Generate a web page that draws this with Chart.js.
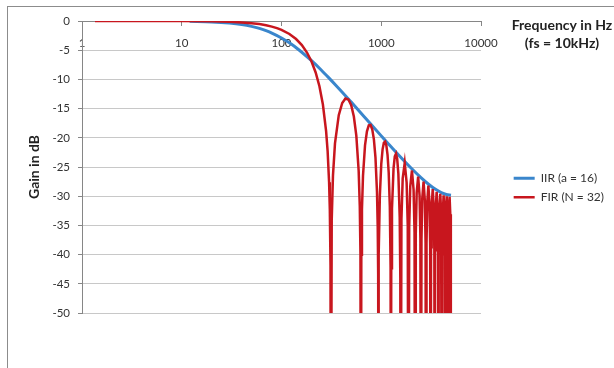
<!DOCTYPE html>
<html>
<head>
<meta charset="utf-8">
<script src="https://cdn.jsdelivr.net/npm/chart.js@4.4.1/dist/chart.umd.min.js"></script>
<style>
  html, body { margin: 0; padding: 0; background: #fff; overflow: hidden; }
</style>
</head>
<body>
<canvas id="gain_chart" width="614" height="368"></canvas>
<script>
// IIR one-pole smoother (a = 16), gain in dB
const iirFreq = [12, 20, 30, 40, 50, 60, 70, 80, 100, 120, 150, 200, 250, 300, 350, 400, 500, 600, 700, 800,
    1000, 1200, 1500, 2000, 2500, 3000, 3500, 4000, 4500, 5000];
const iirGain = [-0.06, -0.16, -0.36, -0.61, -0.92, -1.27, -1.66, -2.06, -2.9, -3.74, -4.96, -6.8, -8.39, -9.78, -10.99, -12.06, -13.89, -15.4, -16.69, -17.81,
    -19.67, -21.18, -22.99, -25.22, -26.82, -27.99, -28.83, -29.39, -29.72, -29.83];

// FIR moving average (N = 32), gain in dB (nulls go below the axis)
const firFreq = [
    1.35, 10, 20, 30, 40, 50, 60, 70, 80, 90, 100, 120, 140, 160, 180, 200, 220, 240, 260, 280, 290, 300, 305, 310, 312.5,
    318.75, 328.125, 343.75, 375, 406.25, 437.5, 468.75, 500, 531.25, 562.5, 593.75, 609.375, 618.75, 625,
    631.25, 640.625, 656.25, 687.5, 718.75, 750, 781.25, 812.5, 843.75, 875, 906.25, 921.875, 931.25, 937.5,
    946.875, 968.75, 1000, 1031.25, 1062.5, 1093.75, 1125, 1156.25, 1187.5, 1218.75, 1240.625, 1250,
    1259.375, 1281.25, 1328.125, 1367.1875, 1406.25, 1445.3125, 1484.375, 1531.25, 1553.125, 1562.5,
    1593.75, 1640.625, 1718.75, 1796.875, 1843.75, 1875,
    1906.25, 1953.125, 2031.25, 2109.375, 2156.25, 2187.5,
    2218.75, 2265.625, 2343.75, 2421.875, 2468.75, 2500,
    2531.25, 2578.125, 2656.25, 2734.375, 2781.25, 2812.5,
    2843.75, 2890.625, 2968.75, 3046.875, 3093.75, 3125,
    3156.25, 3203.125, 3281.25, 3359.375, 3406.25, 3437.5,
    3468.75, 3515.625, 3593.75, 3671.875, 3718.75, 3750,
    3781.25, 3828.125, 3906.25, 3984.375, 4031.25, 4062.5,
    4093.75, 4140.625, 4218.75, 4296.875, 4343.75, 4375,
    4406.25, 4453.125, 4531.25, 4609.375, 4656.25, 4687.5,
    4718.75, 4765.625, 4843.75, 4921.875, 4968.75, 5000
];
const firGain = [
    0, -0.01, -0.06, -0.13, -0.24, -0.37, -0.53, -0.73, -0.96, -1.22, -1.52, -2.22, -3.09, -4.13, -5.4, -6.94, -8.82, -11.18, -14.3, -18.86, -22.28, -27.63, -32.19, -41.87, -90,
    -34.14, -26.46, -20.95, -16.13, -14.04, -13.28, -13.43, -14.43, -16.35, -19.62, -25.67, -31.8, -39.86, -90,
    -40.02, -32.21, -26.49, -21.29, -18.89, -17.87, -17.81, -18.56, -20.27, -23.36, -29.25, -35.31, -43.34, -90,
    -39.97, -29.82, -24.5, -21.98, -20.83, -20.65, -21.31, -22.94, -25.94, -31.74, -42.22, -90,
    -42.35, -32.15, -25.25, -23.17, -22.72, -23.62, -26.16, -33.6, -44.05, -90,
    -33.92, -26.96, -24.32, -27.67, -35.06, -90,
    -35.32, -28.31, -25.6, -28.89, -36.24, -90,
    -36.45, -29.41, -26.65, -29.88, -37.2, -90,
    -37.37, -30.31, -27.5, -30.69, -37.99, -90,
    -38.13, -31.04, -28.2, -31.36, -38.64, -90,
    -38.75, -31.65, -28.77, -31.9, -39.16, -90,
    -39.25, -32.13, -29.23, -32.33, -39.58, -90,
    -39.65, -32.51, -29.58, -32.66, -39.89, -90,
    -39.94, -32.79, -29.84, -32.9, -40.12, -90,
    -40.15, -32.98, -30.01, -33.04, -40.25, -90,
    -40.27, -33.09, -30.09, -33.11, -40.3, -90
];

const xTicks = [1, 10, 100, 1000, 10000];
const xTitleLines = ['Frequency in Hz', '(fs = 10kHz)'];
const seriesNames = ['IIR (a = 16)', 'FIR (N = 32)'];

Chart.defaults.font.family = 'Lato';
Chart.defaults.color = '#333';

const frame = {
    id: 'frame',
    beforeDraw(chart) {
        const ctx = chart.ctx;
        ctx.save();
        ctx.fillStyle = '#fff';
        ctx.fillRect(0, 0, chart.width, chart.height);
        ctx.strokeStyle = '#8c8c8c';
        ctx.lineWidth = 1;
        ctx.strokeRect(7.5, 6.5, chart.width, chart.height);
        ctx.restore();
    },
    afterDraw(chart) {
        const ctx = chart.ctx;
        ctx.save();
        ctx.font = 'bold 14px Lato';
        ctx.fillStyle = '#222';
        ctx.textAlign = 'center';
        ctx.textBaseline = 'middle';
        ctx.fillText(xTitleLines[0], 562, 25);
        ctx.fillText(xTitleLines[1], 562, 43);
        ctx.restore();
    }
};

const plotRight = 481;
const padRight = 0;

const gainChart = new Chart(document.getElementById('gain_chart').getContext('2d'), {
    type: 'line',
    data: {
        datasets: [{
            label: seriesNames[0],
            data: iirFreq.map((f, i) => ({x: f, y: iirGain[i]})),
            borderColor: 'rgb(58, 134, 204)',
            borderWidth: 3,
            pointRadius: 0,
            cubicInterpolationMode: 'monotone',
            order: 1
        }, {
            label: seriesNames[1],
            data: firFreq.map((f, i) => ({x: f, y: firGain[i]})),
            borderColor: 'rgb(200, 22, 30)',
            borderWidth: 2.5,
            pointRadius: 0,
            tension: 0,
            order: 0
        }]
    },
    options: {
        responsive: false,
        animation: false,
        events: [],
        layout: { padding: { left: 22, top: 21, bottom: 55, right: padRight } },
        scales: {
            x: {
                type: 'logarithmic',
                min: 1,
                max: 10000,
                position: { y: 0 },
                afterBuildTicks: (s) => { s.ticks = xTicks.map(v => ({value: v})); },
                ticks: {
                    callback: (v) => String(v),
                    autoSkip: false,
                    maxRotation: 0,
                    padding: 11,
                    font: { size: 11.5 },
                    color: '#333'
                },
                grid: { drawOnChartArea: false, tickLength: 4, color: '#868686' },
                border: { color: '#868686' }
            },
            y: {
                min: -50,
                max: 0,
                ticks: { stepSize: 5, padding: 8, font: { size: 11.5 }, color: '#333' },
                grid: { color: '#c8c8c8', tickLength: 4, tickColor: '#868686' },
                border: { color: '#868686' },
                title: { display: true, text: 'Gain in dB', font: { size: 14, weight: 'bold' }, color: '#222' },
                afterFit: (s) => { s.width = 60; }
            },
            gap: {
                type: 'linear',
                position: 'right',
                display: true,
                ticks: { display: false },
                grid: { display: false },
                border: { display: false },
                afterFit: (s) => {
                    const lg = s.chart.legend;
                    s.width = Math.max(0, s.chart.width - padRight - plotRight - (lg ? lg.width : 0));
                }
            }
        },
        plugins: {
            legend: {
                position: 'right',
                maxWidth: 220,
                labels: {
                    usePointStyle: true,
                    pointStyle: 'line',
                    pointStyleWidth: 21,
                    padding: 7,
                    font: { size: 12 },
                    color: '#333',
                    sort: (a, b) => a.datasetIndex - b.datasetIndex
                },
                title: { display: true, text: '', font: { size: 12 }, padding: { top: 0, bottom: 27 } }
            },
            tooltip: { enabled: false }
        }
    },
    plugins: [frame]
});
</script>
</body>
</html>
